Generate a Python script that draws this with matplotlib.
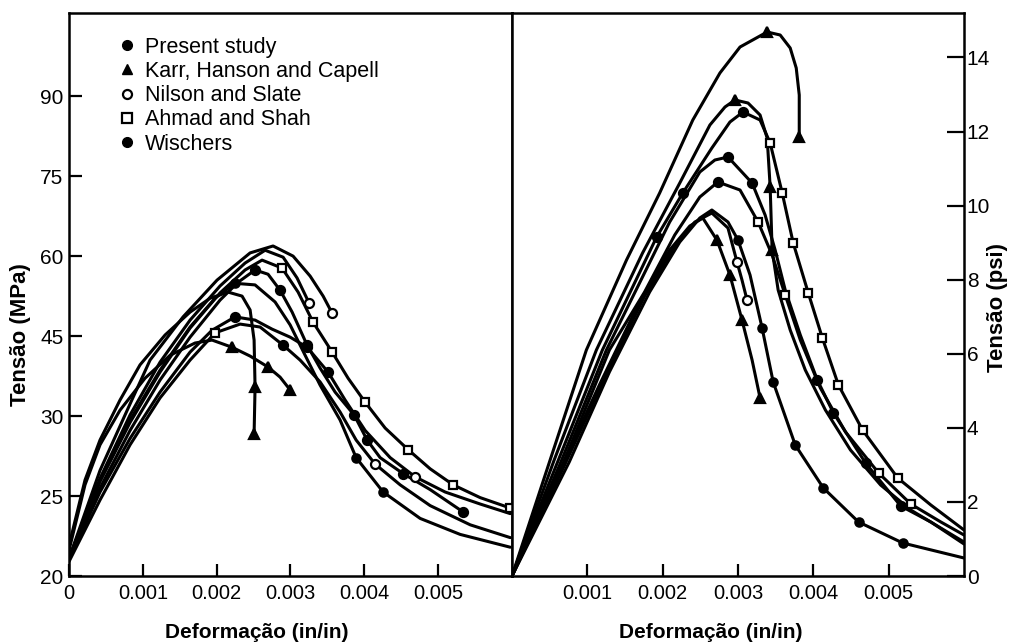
import numpy as np
import matplotlib
matplotlib.use('Agg')
import matplotlib.pyplot as plt
from matplotlib.lines import Line2D
from matplotlib.ticker import NullLocator

plt.rcParams['font.family'] = ['Liberation Sans', 'DejaVu Sans']

# axis ticks
mpa_ticks = [20, 25, 30, 45, 60, 75, 90]
psi_ticks = [0, 2, 4, 6, 8, 10, 12, 14]
strain_ticks_left = [0, 0.001, 0.002, 0.003, 0.004, 0.005]
strain_labels_left = ['0', '0.001', '0.002', '0.003', '0.004', '0.005']
strain_ticks_right = [0.001, 0.002, 0.003, 0.004, 0.005]
strain_labels_right = ['0.001', '0.002', '0.003', '0.004', '0.005']

legend_labels = ['Present study', 'Karr, Hanson and Capell', 'Nilson and Slate',
                 'Ahmad and Shah', 'Wischers']

# ---- left panel (strain x 1e-3, stress in MPa) ----
l1_x = [0, 0.42, 0.759, 1.098, 1.545, 2.005, 2.453, 2.764, 3.035, 3.266, 3.442, 3.564]
l1_y = [21.1, 26.6, 30.2, 40.5, 48.6, 55.5, 60.6, 61.9, 60.0, 56.25, 52.5, 49.3]

l2_x = [0, 0.42, 0.827, 1.233, 1.64, 2.046, 2.385, 2.656, 2.9, 3.089, 3.252]
l2_y = [21.1, 26.1, 30.2, 40.1, 48.0, 54.4, 58.7, 61.1, 59.8, 55.9, 51.2]

l3_x = [0, 0.42, 0.827, 1.233, 1.64, 2.046, 2.385, 2.615, 2.886, 3.103, 3.306, 3.564,
        3.78, 4.011, 4.282, 4.593, 4.892, 5.203, 5.569, 5.976]
l3_y = [21.0, 25.9, 29.6, 38.25, 46.5, 53.1, 57.4, 59.25, 57.75, 53.25, 47.6, 42.0,
        37.1, 32.6, 29.25, 27.9, 26.7, 25.7, 24.9, 24.25]

l4_x = [0, 0.42, 0.827, 1.233, 1.64, 2.046, 2.29, 2.52, 2.696, 2.859, 3.022, 3.225,
        3.401, 3.604, 3.862, 4.038, 4.214, 4.526, 4.892, 5.339]
l4_y = [21.0, 25.5, 29.1, 36.75, 44.8, 51.75, 55.1, 57.4, 56.6, 53.6, 49.5, 43.3,
        39.0, 34.5, 30.2, 28.5, 27.4, 26.4, 25.4, 24.0]

l5_x = [0, 0.42, 0.827, 1.233, 1.64, 1.978, 2.249, 2.52, 2.791, 2.995, 3.198, 3.401,
        3.672, 3.889, 4.255, 4.756, 5.298, 5.976]
l5_y = [21.1, 26.0, 29.75, 38.6, 46.7, 52.1, 54.9, 54.6, 51.4, 47.1, 41.4, 35.8,
        29.75, 27.4, 25.25, 23.6, 22.6, 21.8]

l6_x = [0, 0.217, 0.42, 0.691, 0.962, 1.301, 1.64, 1.911, 2.154, 2.344, 2.453, 2.507,
        2.52, 2.507]
l6_y = [21.9, 26.0, 28.5, 33.0, 39.6, 45.2, 49.5, 52.1, 53.25, 52.5, 49.9, 44.25,
        35.4, 28.9]

l7_x = [0, 0.42, 0.827, 1.233, 1.64, 1.938, 2.249, 2.52, 2.751, 2.995, 3.225, 3.509,
        3.74, 4.011, 4.35, 4.688, 5.095, 5.569, 5.976]
l7_y = [21.0, 25.25, 28.6, 34.5, 42.0, 46.1, 48.6, 48.0, 46.3, 44.8, 42.9, 38.25,
        33.0, 29.1, 27.4, 26.2, 25.25, 24.5, 23.9]

l8_x = [0, 0.42, 0.827, 1.233, 1.64, 1.978, 2.317, 2.588, 2.9, 3.13, 3.401, 3.672,
        3.889, 4.146, 4.485, 4.892, 5.434, 5.976]
l8_y = [20.9, 24.75, 28.2, 33.4, 40.5, 45.6, 47.25, 46.7, 43.3, 40.5, 36.4, 30.75,
        28.5, 27.0, 25.7, 24.4, 23.2, 22.4]

l9_x = [0, 0.217, 0.42, 0.691, 1.03, 1.369, 1.707, 1.938, 2.209, 2.453, 2.696, 2.859, 2.995]
l9_y = [21.6, 25.7, 28.2, 31.1, 37.1, 41.4, 43.7, 44.25, 42.9, 41.25, 39.2, 37.3, 34.9]

# ---- right panel (strain x 1e-3, stress labelled psi) ----
r1_x = [0, 0.493, 0.987, 1.52, 1.96, 2.4, 2.76, 3.027, 3.387, 3.56, 3.693, 3.773, 3.813, 3.813]
r1_y = [0, 3.051, 6.101, 8.531, 10.34, 12.311, 13.58, 14.282, 14.687, 14.606, 14.255,
        13.715, 12.986, 11.852]

r2_x = [0, 0.56, 1.12, 1.733, 2.227, 2.627, 2.827, 2.96, 3.133, 3.293, 3.387, 3.427,
        3.453, 3.533, 3.693, 3.893, 4.16, 4.493, 4.893, 5.293, 6.0]
r2_y = [0, 3.132, 6.101, 8.72, 10.61, 12.176, 12.662, 12.851, 12.77, 12.446, 11.825,
        10.502, 8.801, 7.721, 6.641, 5.562, 4.482, 3.402, 2.457, 1.782, 0.918]

r3_x = [0, 0.6, 1.2, 1.92, 2.267, 2.653, 2.893, 3.067, 3.293, 3.427, 3.587, 3.733,
        3.933, 4.12, 4.333, 4.653, 5.12, 5.56, 6.0]
r3_y = [0, 3.051, 6.101, 9.152, 10.34, 11.555, 12.257, 12.527, 12.311, 11.69, 10.34,
        8.99, 7.64, 6.426, 5.157, 3.942, 2.646, 1.917, 1.242]

r4_x = [0, 0.627, 1.253, 1.693, 2.093, 2.493, 2.693, 2.867, 3.187, 3.36, 3.493, 3.627,
        3.827, 4.053, 4.267, 4.693, 5.16, 5.56, 6.0]
r4_y = [0, 2.97, 6.101, 7.91, 9.557, 10.907, 11.231, 11.312, 10.61, 9.746, 8.801,
        7.721, 6.507, 5.292, 4.401, 3.051, 1.89, 1.458, 0.864]

r5_x = [0, 0.653, 1.293, 1.76, 2.16, 2.493, 2.733, 3.027, 3.267, 3.453, 3.627, 3.827,
        4.093, 4.427, 4.867, 5.293, 5.693, 6.0]
r5_y = [0, 2.916, 6.101, 7.667, 9.206, 10.232, 10.637, 10.421, 9.557, 8.666, 7.586,
        6.372, 5.076, 3.888, 2.781, 1.944, 1.458, 1.107]

r6_x = [0, 0.627, 1.16, 1.693, 2.093, 2.36, 2.533, 2.72, 2.893, 3.053, 3.187, 3.293]
r6_y = [0, 2.808, 5.157, 7.397, 8.801, 9.449, 9.665, 9.071, 8.126, 6.911, 5.832, 4.806]

r7_x = [0, 0.693, 1.227, 1.76, 2.16, 2.427, 2.653, 2.867, 2.987, 3.053, 3.12]
r7_y = [0, 2.97, 5.346, 7.559, 8.909, 9.557, 9.8, 9.395, 8.477, 7.991, 7.451]

r8_x = [0, 0.76, 1.293, 1.827, 2.227, 2.493, 2.653, 2.867, 3.0, 3.16, 3.32, 3.467,
        3.76, 4.133, 4.6, 5.187, 6.0]
r8_y = [0, 3.078, 5.508, 7.667, 9.017, 9.665, 9.881, 9.557, 9.071, 8.126, 6.696,
        5.238, 3.537, 2.376, 1.458, 0.891, 0.486]

# marker style per source
styles = {
    'present': dict(marker='o', mfc='black', ms=6.5),
    'karr': dict(marker='^', mfc='black', ms=6.5),
    'nilson': dict(marker='o', mfc='white', ms=6.5),
    'ahmad': dict(marker='s', mfc='white', ms=6),
    'wischers': dict(marker='o', mfc='black', ms=6),
}

# (x, y, [(point indices, source), ...])
left_curves = [
    (l1_x, l1_y, [([11], 'nilson')]),
    (l2_x, l2_y, [([10], 'nilson')]),
    (l3_x, l3_y, [([8, 10, 11, 13, 15, 17, 19], 'ahmad')]),
    (l4_x, l4_y, [([7, 9, 11, 14, 15, 17, 19], 'present')]),
    (l5_x, l5_y, [([6, 13, 14], 'wischers')]),
    (l6_x, l6_y, [([12, 13], 'karr')]),
    (l7_x, l7_y, [([6, 10, 11], 'present'), ([15], 'nilson')]),
    (l8_x, l8_y, [([5], 'ahmad'), ([8], 'present'), ([13], 'nilson')]),
    (l9_x, l9_y, [([8, 10, 12], 'karr')]),
]
right_curves = [
    (r1_x, r1_y, [([8, 13], 'karr')]),
    (r2_x, r2_y, [([7, 11, 12], 'karr')]),
    (r3_x, r3_y, [([3, 4, 7], 'present'), ([9, 10, 11, 12, 13, 14, 15, 16], 'ahmad')]),
    (r4_x, r4_y, [([7, 8, 13, 14, 15, 16], 'present')]),
    (r5_x, r5_y, [([6], 'present'), ([8, 10, 14, 15], 'ahmad')]),
    (r6_x, r6_y, [([7, 8, 9, 11], 'karr')]),
    (r7_x, r7_y, [([8, 10], 'nilson')]),
    (r8_x, r8_y, [([8, 10, 11, 12, 13, 14, 15], 'wischers')]),
]

# left axis: tick values evenly spaced on the paper -> piecewise linear scale
knots_v = [0] + mpa_ticks + [200]
knots_i = [-4, 0, 1, 2, 3, 4, 5, 6, 6 + 110 / 15]


def fwd(v):
    return np.interp(v, knots_v, knots_i)


def inv(i):
    return np.interp(i, knots_i, knots_v)


fig = plt.figure(figsize=(10.15, 6.44), dpi=100)
ax1 = fig.add_axes([69 / 1015, 68 / 644, 443 / 1015, 563 / 644])
ax2 = fig.add_axes([512 / 1015, 68 / 644, 452 / 1015, 563 / 644])


def draw(ax, curves):
    for x, y, marks in curves:
        xs = np.array(x) * 1e-3
        ys = np.array(y)
        ax.plot(xs, ys, color='black', lw=2.2,
                solid_joinstyle='round', solid_capstyle='round')
        for idx, src in marks:
            st = styles[src]
            ax.plot(xs[idx], ys[idx], ls='none', marker=st['marker'], ms=st['ms'],
                    mfc=st['mfc'], mec='black', mew=1.6, zorder=3)


draw(ax1, left_curves)
draw(ax2, right_curves)

# left panel axes
ax1.set_yscale('function', functions=(fwd, inv))
ax1.set_ylim(20, 105.6)
ax1.set_xlim(0, 0.006)
ax1.set_yticks(mpa_ticks)
ax1.set_yticklabels([str(v) for v in mpa_ticks])
ax1.yaxis.set_minor_locator(NullLocator())
ax1.set_xticks(strain_ticks_left)
ax1.set_xticklabels(strain_labels_left)
ax1.tick_params(axis='y', direction='in', length=9, width=1.6, labelsize=15, pad=4)
ax1.tick_params(axis='x', direction='in', length=9, width=1.6, labelsize=14.5, pad=5.5)

# right panel axes
ax2.set_ylim(0, 15.2)
ax2.set_xlim(0, 0.006)
ax2.set_yticks(psi_ticks)
ax2.yaxis.tick_right()
ax2.set_xticks(strain_ticks_right)
ax2.set_xticklabels(strain_labels_right)
ax2.tick_params(axis='y', direction='in', length=12, width=1.6, labelsize=15, pad=2)
ax2.tick_params(axis='x', direction='in', length=9, width=1.6, labelsize=14.5, pad=5.5)

for ax in (ax1, ax2):
    for sp in ax.spines.values():
        sp.set_linewidth(1.8)

# legend
handles = [
    Line2D([], [], ls='none', marker='o', color='black', mfc='black', ms=7),
    Line2D([], [], ls='none', marker='^', color='black', mfc='black', ms=6.5),
    Line2D([], [], ls='none', marker='o', color='black', mfc='white', ms=6.5, mew=1.6),
    Line2D([], [], ls='none', marker='s', color='black', mfc='white', ms=6.5, mew=1.6),
    Line2D([], [], ls='none', marker='o', color='black', mfc='black', ms=7),
]
ax1.legend(handles, legend_labels, loc='upper left', bbox_to_anchor=(0.116, 0.958),
           frameon=False, fontsize=15.5, handlelength=0.6, handletextpad=0.54,
           labelspacing=0.15, borderpad=0, borderaxespad=0)

# axis titles
fig.text(257 / 1015, 1 - 632 / 644, 'Deformação (in/in)', ha='center', va='center',
         fontsize=15, fontweight='bold')
fig.text(711 / 1015, 1 - 632 / 644, 'Deformação (in/in)', ha='center', va='center',
         fontsize=15, fontweight='bold')
fig.text(21 / 1015, 1 - 335 / 644, 'Tensão (MPa)', ha='center', va='center',
         rotation=90, fontsize=16, fontweight='bold')
fig.text(997 / 1015, 1 - 308 / 644, 'Tensão (psi)', ha='center', va='center',
         rotation=90, fontsize=16, fontweight='bold')

fig.savefig('out.png', dpi=100)
